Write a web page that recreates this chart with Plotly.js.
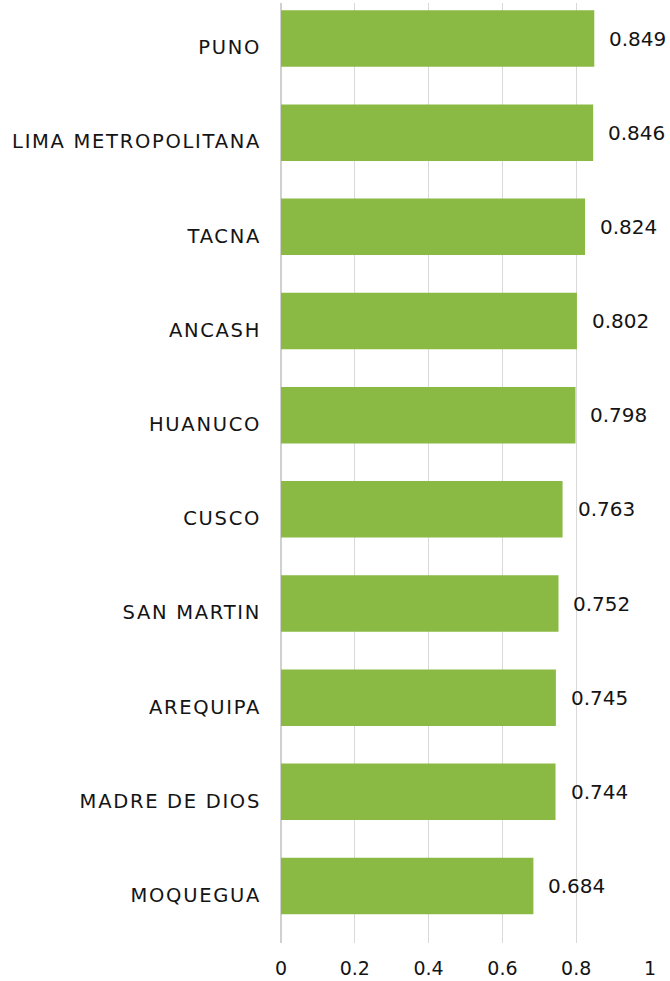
<!DOCTYPE html>
<html>
<head>
<meta charset="utf-8">
<script src="https://cdn.plot.ly/plotly-3.0.1.min.js"></script>
<style>
html,body{margin:0;padding:0;background:#fff;}
#chart{width:670px;height:981px;}
#chart .ytick text{letter-spacing:1.7px;}
</style>
</head>
<body>
<div id="chart"></div>
<script>
const regions = ["MOQUEGUA","MADRE DE DIOS","AREQUIPA","SAN MARTIN","CUSCO","HUANUCO","ANCASH","TACNA","LIMA METROPOLITANA","PUNO"];
const values = [0.684,0.744,0.745,0.752,0.763,0.798,0.802,0.824,0.846,0.849];
const tickVals = [0,0.2,0.4,0.6,0.8,1];
const tickText = ["0","0.2","0.4","0.6","0.8","1"];

const fontFam = "DejaVu Sans, sans-serif";
const txtColor = "#141414";
const trace = {
  type: "bar",
  orientation: "h",
  x: values,
  y: regions,
  width: 0.6,
  marker: {color: "#8aba43"},
  hoverinfo: "none"
};
const annotations = values.map((v, i) => ({
  x: v, y: regions[i], xref: "x", yref: "y",
  text: v.toFixed(3), showarrow: false,
  xanchor: "left", yanchor: "middle", xshift: 13,
  font: {family: fontFam, size: 20, color: txtColor}
}));
const layout = {
  width: 670, height: 981,
  margin: {l: 281, r: 20, t: 3, b: 38},
  paper_bgcolor: "#fff", plot_bgcolor: "#fff",
  showlegend: false,
  font: {family: fontFam, size: 19, color: txtColor},
  xaxis: {
    range: [0, 1], tickvals: tickVals, ticktext: tickText,
    showgrid: true, gridcolor: "#d9d9d9", gridwidth: 1.3,
    zeroline: true, zerolinecolor: "#d0d0d0", zerolinewidth: 2,
    showline: false, ticks: "", ticklen: 0,
    ticklabelstandoff: 12,
    tickfont: {family: fontFam, size: 19, color: txtColor}
  },
  yaxis: {
    type: "category", range: [-0.605, 9.377],
    showgrid: false, zeroline: false, showline: false, ticks: "",
    ticklabelstandoff: 19, ticklabelshift: 9,
    tickfont: {family: fontFam, size: 19.5, color: txtColor}
  },
  annotations: annotations
};
Plotly.newPlot("chart", [trace], layout, {staticPlot: true, displayModeBar: false});
</script>
</body>
</html>
